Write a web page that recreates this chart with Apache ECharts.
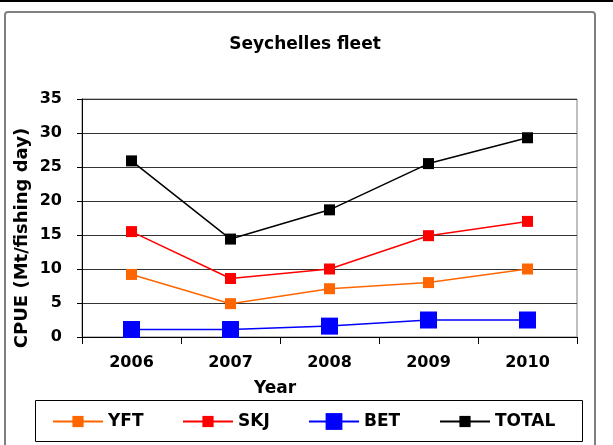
<!DOCTYPE html>
<html>
<head>
<meta charset="utf-8">
<script src="https://cdn.jsdelivr.net/npm/echarts@6/dist/echarts.min.js"></script>
<style>
  html, body { margin: 0; padding: 0; background: #fff; }
  #chart { width: 613px; height: 445px; }
</style>
</head>
<body>
<div id="chart"></div>
<script>
const years = ['2006', '2007', '2008', '2009', '2010'];
const yft = [9.2, 4.9, 7.1, 8.0, 10.0];
const skj = [15.5, 8.6, 10.0, 14.9, 17.0];
const bet = [1.1, 1.1, 1.6, 2.5, 2.5];
const total = [25.9, 14.4, 18.7, 25.5, 29.3];

const FONT = 'DejaVu Sans';

function lineSeries(name, data, color, size) {
  return {
    name,
    type: 'line',
    data,
    symbol: 'rect',
    symbolSize: size,
    showAllSymbol: true,
    lineStyle: { color, width: 1.5 },
    itemStyle: { color },
    emphasis: { disabled: true }
  };
}

// one legend per entry so each can sit where the reference puts it
function legendItem(name, left, itemHeight, top) {
  return {
    data: [name],
    left,
    top,
    itemWidth: 50,
    itemHeight,
    itemGap: 0,
    padding: 0,
    selectedMode: false,
    textStyle: { fontFamily: FONT, fontWeight: 'bold', fontSize: 17, color: '#000' }
  };
}

const chart = echarts.init(document.getElementById('chart'), null, { renderer: 'canvas' });

chart.setOption({
  animation: false,
  backgroundColor: '#fff',
  title: {
    text: 'Seychelles fleet',
    left: 300,
    top: 31,
    textAlign: 'center',
    textStyle: { fontFamily: FONT, fontWeight: 'bold', fontSize: 17, color: '#000' }
  },
  grid: {
    left: 82, right: 36, top: 99, bottom: 108,
    show: true, borderColor: '#808080', borderWidth: 1
  },
  xAxis: {
    type: 'category',
    data: years,
    boundaryGap: true,
    axisLine: { lineStyle: { color: '#000', width: 1 } },
    axisTick: { show: true, length: 7, lineStyle: { color: '#000' } },
    axisLabel: { fontFamily: FONT, fontWeight: 'bold', fontSize: 16, color: '#000', margin: 18 },
    splitLine: { show: false }
  },
  yAxis: {
    type: 'value',
    min: 0, max: 35, interval: 5,
    axisLine: { show: true, lineStyle: { color: '#000', width: 1 } },
    axisTick: { show: true, length: 5, lineStyle: { color: '#000' } },
    axisLabel: { fontFamily: FONT, fontWeight: 'bold', fontSize: 16, color: '#000', margin: 20 },
    splitLine: { show: true, lineStyle: { color: '#333', width: 1 } }
  },
  legend: [
    legendItem('YFT', 52, 14, 413),
    legendItem('SKJ', 182, 14, 413),
    legendItem('BET', 308, 21, 413),
    legendItem('TOTAL', 439, 14, 413)
  ],
  series: [
    lineSeries('YFT', yft, '#FF6600', 11),
    lineSeries('SKJ', skj, '#FF0000', 11),
    lineSeries('BET', bet, '#0000FF', 17),
    lineSeries('TOTAL', total, '#000000', 11)
  ],
  graphic: [
    { type: 'rect', shape: { x: 0, y: 0, width: 613, height: 2 }, style: { fill: '#000' }, silent: true },
    { type: 'rect', shape: { x: 5, y: 12, width: 590, height: 460, r: 3 }, style: { fill: 'none', stroke: '#808080', lineWidth: 2 }, silent: true, z: -1 },
    { type: 'rect', shape: { x: 35.5, y: 400.5, width: 547, height: 41 }, style: { fill: 'none', stroke: '#000', lineWidth: 1 }, silent: true },
    {
      type: 'text', x: 275, y: 389,
      style: { text: 'Year', fontFamily: FONT, fontWeight: 'bold', fontSize: 17, fill: '#000', align: 'center', verticalAlign: 'middle' },
      silent: true
    },
    {
      type: 'text', x: 22, y: 238, rotation: Math.PI / 2,
      style: { text: 'CPUE (Mt/fishing day)', fontFamily: FONT, fontWeight: 'bold', fontSize: 18, fill: '#000', align: 'center', verticalAlign: 'middle' },
      silent: true
    }
  ]
});
</script>
</body>
</html>
